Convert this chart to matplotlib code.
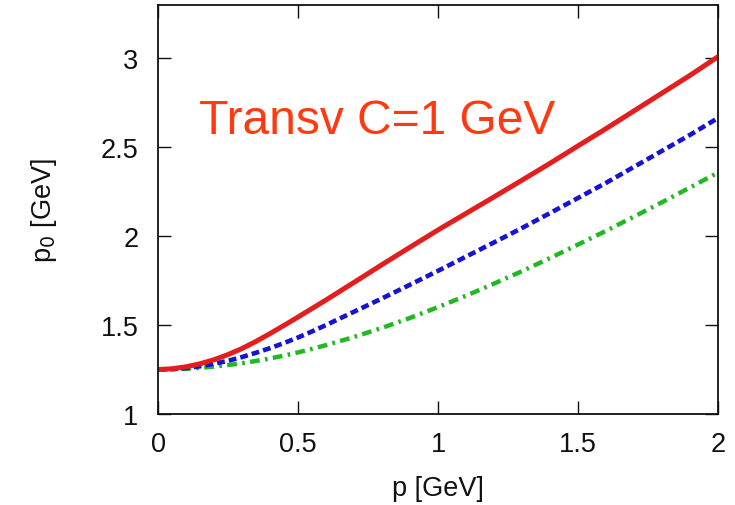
import numpy as np
import matplotlib
matplotlib.use("Agg")
import matplotlib.pyplot as plt

# ---- Data ----
p = [0.0, 0.05, 0.1, 0.15, 0.2, 0.25, 0.3, 0.35, 0.4, 0.45, 0.5, 0.55, 0.6,
     0.7, 0.8, 0.9, 1.0, 1.1, 1.2, 1.3, 1.4, 1.5, 1.6, 1.7, 1.8, 1.9, 2.0]

p0_red = [1.250, 1.254, 1.265, 1.282, 1.305, 1.334, 1.368, 1.408, 1.452, 1.498, 1.545, 1.593, 1.641,
          1.740, 1.840, 1.938, 2.035, 2.128, 2.221, 2.315, 2.410, 2.508, 2.605, 2.705, 2.805, 2.905, 3.010]
p0_blue = [1.250, 1.252, 1.258, 1.268, 1.282, 1.299, 1.320, 1.344, 1.370, 1.399, 1.430, 1.464, 1.500,
           1.575, 1.650, 1.727, 1.805, 1.885, 1.965, 2.046, 2.130, 2.215, 2.300, 2.390, 2.480, 2.570, 2.665]
p0_green = [1.250, 1.251, 1.254, 1.259, 1.266, 1.275, 1.285, 1.298, 1.312, 1.328, 1.346, 1.366, 1.387,
            1.433, 1.484, 1.540, 1.601, 1.665, 1.733, 1.803, 1.877, 1.953, 2.030, 2.110, 2.191, 2.274, 2.358]

xticks = [0, 0.5, 1, 1.5, 2]
xticklabels = ["0", "0.5", "1", "1.5", "2"]
yticks = [1, 1.5, 2, 2.5, 3]
yticklabels = ["1", "1.5", "2", "2.5", "3"]

title_text = "Transv C=1 GeV"

# ---- Plot ----
plt.rcParams['font.family'] = ['Liberation Sans', 'DejaVu Sans']

fig = plt.figure(figsize=(7.35, 5.06), dpi=100)
ax = fig.add_axes([0.215, 0.180, 0.762, 0.808])

ax.plot(p, p0_green, color='#22b822', lw=3.2, dashes=(2.2, 1.2, 0.6, 1.2))
ax.plot(p, p0_blue, color='#1414d2', lw=3.3, dashes=(1.7, 0.9))
ax.plot(p, p0_red, color='#e41e1e', lw=3.6, solid_capstyle='butt')

ax.set_xlim(0, 2)
ax.set_ylim(1, 3.3)
ax.set_xticks(xticks)
ax.set_xticklabels(xticklabels)
ax.set_yticks(yticks)
ax.set_yticklabels(yticklabels)

ax.tick_params(direction='in', length=9.5, width=1.0, top=True, right=True,
               labelsize=19.5, colors='#111111')
ax.tick_params(axis='x', pad=12)
ax.tick_params(axis='y', pad=14)
for s in ax.spines.values():
    s.set_linewidth(1.3)
    s.set_color('#111111')

ax.set_xlabel("p [GeV]", fontsize=19.5, labelpad=13, color='#111111')
ax.set_ylabel(r"p$_0$ [GeV]", fontsize=19.5, labelpad=30, color='#111111')

ax.text(0.145, 2.58, title_text, color='#ff3a10', fontsize=34.5)

fig.savefig("out.png", dpi=100)
